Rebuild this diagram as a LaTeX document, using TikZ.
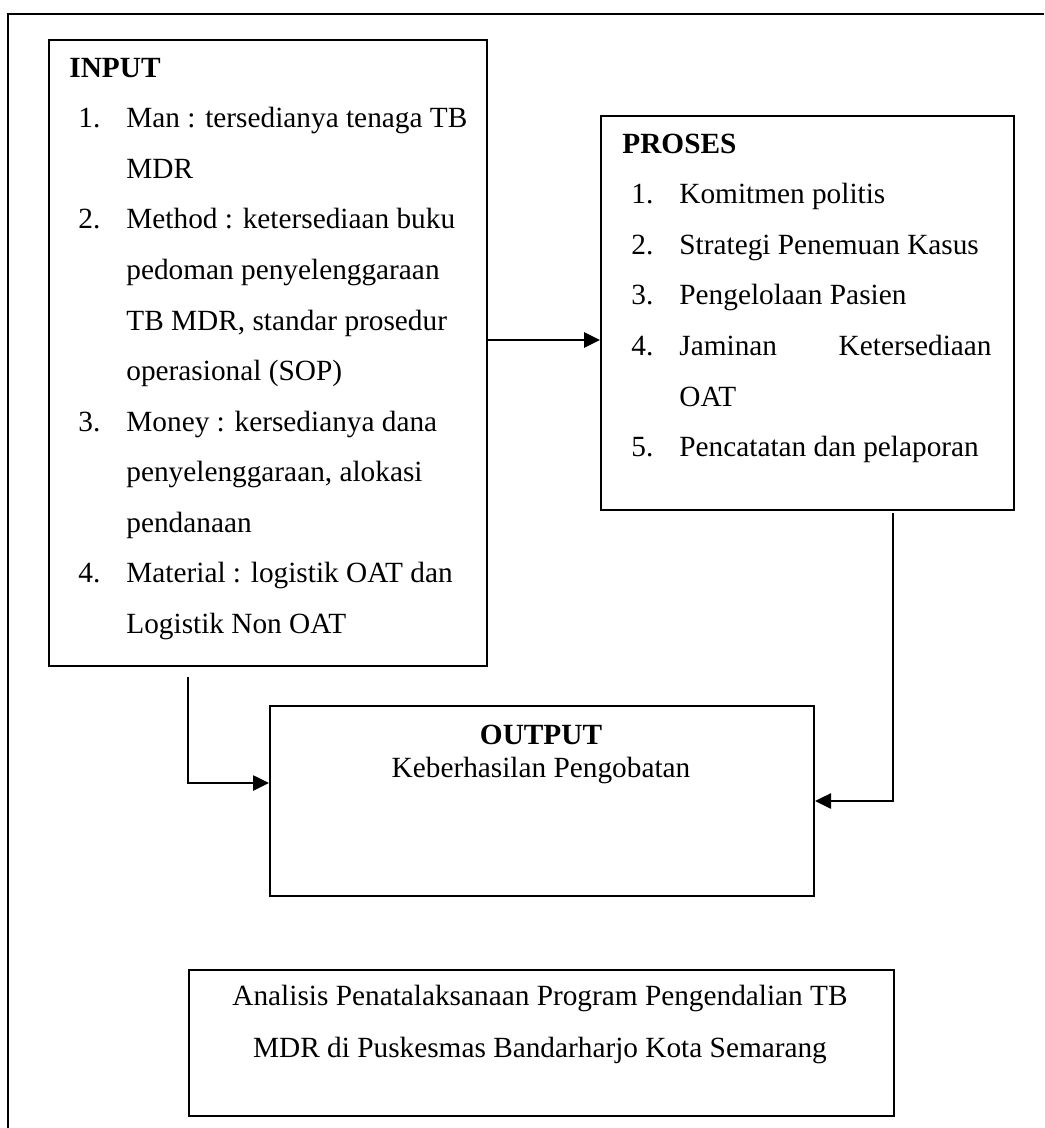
\documentclass[tikz,border=0pt]{standalone}
\usepackage{fontspec}
\setmainfont{Liberation Serif}
\usetikzlibrary{arrows.meta}
\tikzset{
  box/.style={draw, line width=1pt, rectangle, inner sep=0pt, anchor=north west},
  txt/.style={inner sep=0pt, anchor=base west, font=\fontsize{14.65}{17}\selectfont},
  ctxt/.style={inner sep=0pt, anchor=base, font=\fontsize{14.65}{17}\selectfont},
  rtxt/.style={inner sep=0pt, anchor=base east, font=\fontsize{14.65}{17}\selectfont},
  arr/.style={line width=1.3pt, -{Triangle[length=8pt,width=7.5pt]}},
  frame/.style={line width=1.1pt}
}
\begin{document}
\begin{tikzpicture}[x=0.5pt,y=-0.5pt]
\useasboundingbox (0,0) rectangle (1044,1128);
% outer frame (only top and left visible)
\coordinate (fbl) at (8,1128);
\coordinate (ftl) at (8,14);
\coordinate (ftr) at (1044,14);
\draw[frame] (fbl) -- (ftl) -- (ftr);

% boxes
\node[box, minimum width=219pt, minimum height=313pt] (input) at (48,39) {};
\node[box, minimum width=206.5pt, minimum height=197pt] (proses) at (600,115) {};
\node[box, minimum width=272pt, minimum height=95pt] (output) at (269,705) {};
\node[box, minimum width=352.5pt, minimum height=73pt] (analisis) at (188,969) {};

% INPUT text
\node[txt, font=\fontsize{14.65}{17}\selectfont\bfseries] (inT) at (69,78) {INPUT};
\node[txt] (inN1) at (78,128) {1.};
\node[txt] (inL1) at (126,128) {Man : tersedianya tenaga TB};
\node[txt] (inL2) at (126,178.5) {MDR};
\node[txt] (inN2) at (78,229) {2.};
\node[txt] (inL3) at (126,229) {Method : ketersediaan buku};
\node[txt] (inL4) at (126,279.5) {pedoman penyelenggaraan};
\node[txt] (inL5) at (126,330) {TB MDR, standar prosedur};
\node[txt] (inL6) at (126,380.5) {operasional (SOP)};
\node[txt] (inN3) at (78,431) {3.};
\node[txt] (inL7) at (126,431) {Money : kersedianya dana};
\node[txt] (inL8) at (126,481.5) {penyelenggaraan, alokasi};
\node[txt] (inL9) at (126,532) {pendanaan};
\node[txt] (inN4) at (78,582.5) {4.};
\node[txt] (inL10) at (126,582.5) {Material : logistik OAT dan};
\node[txt] (inL11) at (126,633) {Logistik Non OAT};

% PROSES text
\node[txt, font=\fontsize{14.65}{17}\selectfont\bfseries] (prT) at (622,154) {PROSES};
\node[txt] (prN1) at (631,204) {1.};
\node[txt] (prL1) at (679,204) {Komitmen politis};
\node[txt] (prN2) at (631,254.5) {2.};
\node[txt] (prL2) at (679,254.5) {Strategi Penemuan Kasus};
\node[txt] (prN3) at (631,305) {3.};
\node[txt] (prL3) at (679,305) {Pengelolaan Pasien};
\node[txt] (prN4) at (631,355.5) {4.};
\node[txt] (prL4a) at (679,355.5) {Jaminan};
\node[rtxt] (prL4b) at (992,355.5) {Ketersediaan};
\node[txt] (prL5) at (679,406) {OAT};
\node[txt] (prN5) at (631,456.5) {5.};
\node[txt] (prL6) at (679,456.5) {Pencatatan dan pelaporan};

% OUTPUT text
\node[ctxt, font=\fontsize{14.65}{17}\selectfont\bfseries] (ouT) at (541,744) {OUTPUT};
\node[ctxt] (ouL1) at (541,777) {Keberhasilan Pengobatan};

% Analisis text
\node[ctxt] (anL1) at (540,1005.5) {Analisis Penatalaksanaan Program Pengendalian TB};
\node[ctxt] (anL2) at (540,1057) {MDR di Puskesmas Bandarharjo Kota Semarang};

% connectors
\coordinate (y1) at (0,340);
\draw[arr] (input.east |- y1) -- (proses.west |- y1);

\coordinate (s2) at (188,677);
\coordinate (y2) at (0,783);
\draw[arr] (s2) -- (s2 |- y2) -- (output.west |- y2);

\coordinate (s3) at (893,513);
\draw[arr] (s3) |- (output.east);
\end{tikzpicture}
\end{document}
